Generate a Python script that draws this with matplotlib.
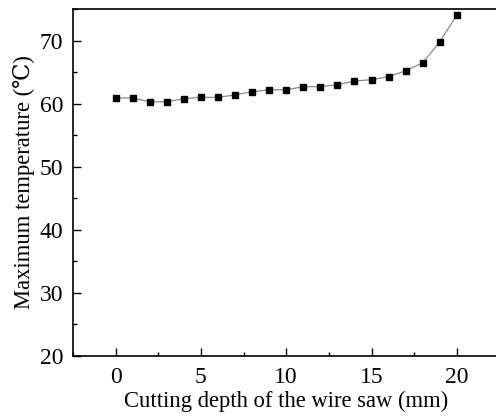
import matplotlib
matplotlib.use("Agg")
import matplotlib.pyplot as plt
from matplotlib.ticker import MultipleLocator

# cutting depth (mm) vs. maximum temperature (deg C)
depth = [0, 1, 2, 3, 4, 5, 6, 7, 8, 9, 10, 11, 12, 13, 14, 15, 16, 17, 18, 19, 20]
max_temp = [60.9, 60.9, 60.3, 60.3, 60.8, 61.0, 61.0, 61.4, 61.9, 62.2, 62.2,
            62.7, 62.7, 63.0, 63.6, 63.8, 64.3, 65.2, 66.5, 69.8, 74.1]

plt.rcParams["font.family"] = ["Liberation Serif", "DejaVu Serif"]

fig = plt.figure(figsize=(4.96, 4.17), dpi=100)
ax = fig.add_axes([0.147, 0.147, 0.860, 0.831])

ax.plot(depth, max_temp, color="#8a8a8a", lw=0.9, marker="s", ms=4.6,
        mfc="black", mec="black", zorder=3)

ax.set_xlim(-2.5, 22.5)
ax.set_ylim(20, 75)
ax.xaxis.set_major_locator(MultipleLocator(5))
ax.xaxis.set_minor_locator(MultipleLocator(2.5))
ax.yaxis.set_major_locator(MultipleLocator(10))
ax.yaxis.set_minor_locator(MultipleLocator(5))
ax.tick_params(which="both", direction="in", top=False, right=False, width=1.0,
               labelsize=17)
ax.tick_params(which="major", length=5.5)
ax.tick_params(axis="x", which="major", pad=8)
ax.tick_params(axis="y", which="major", pad=7)
ax.tick_params(which="minor", length=3)
for s in ax.spines.values():
    s.set_linewidth(1.2)

ax.set_xlabel("Cutting depth of the wire saw (mm)", fontsize=16.3, labelpad=2)
ax.set_ylabel("Maximum temperature (\u2103)", fontsize=16.3, labelpad=3)

fig.savefig("out.png", dpi=100)
